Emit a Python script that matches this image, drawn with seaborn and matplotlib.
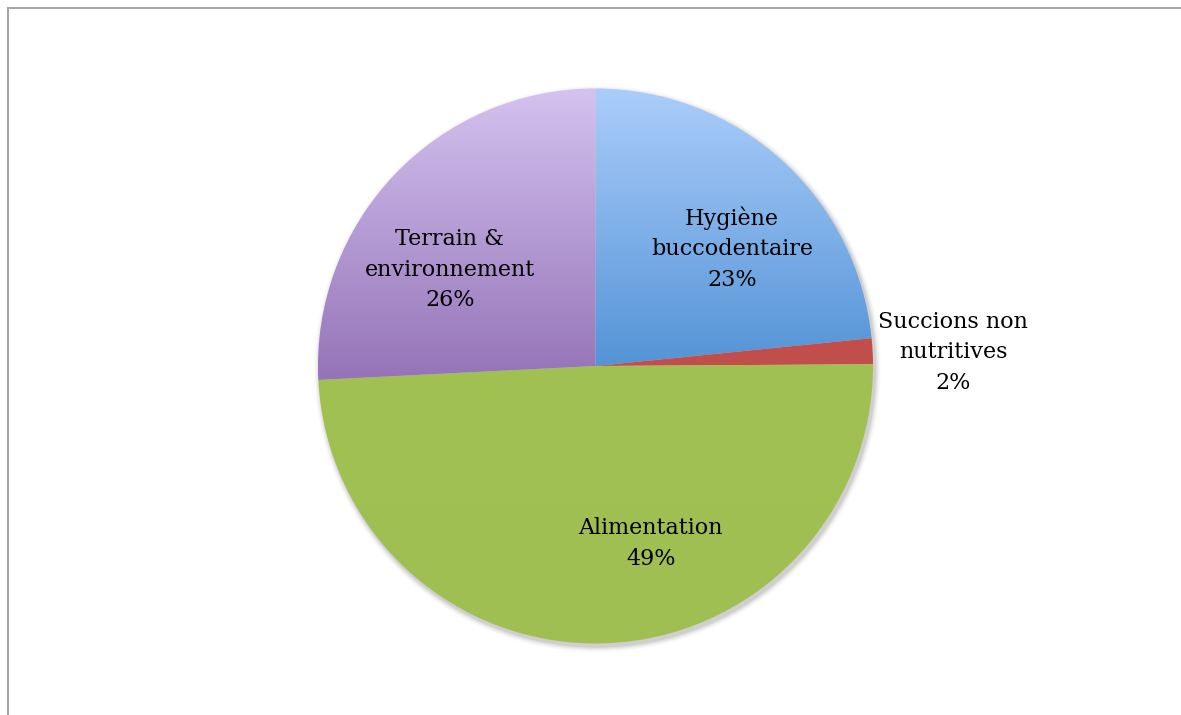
import numpy as np
import matplotlib
matplotlib.use('Agg')
import matplotlib.pyplot as plt
import matplotlib.colors as mcolors
from matplotlib.patches import Rectangle, Circle
import seaborn as sns

# data
categories = ['Hygiène\nbuccodentaire', 'Succions non\nnutritives', 'Alimentation', 'Terrain &\nenvironnement']
shares = [23.4, 1.5, 49.3, 25.8]

# gradient colours (top, bottom) for each slice
top_colors = ['#accefb', '#c24e4a', '#a2c153', '#d5c3f0']
bottom_colors = ['#5393d6', '#c0504d', '#a0bf52', '#9473b7']

# label placement: (angle deg, radius as fraction of pie radius)
label_pos = [(40.7, 0.65), (2.2, 1.29), (-72.7, 0.67), (146.5, 0.63)]

sns.set_theme(style='white')
plt.rcParams['font.family'] = ['DejaVu Serif', 'Liberation Serif']

W, H = 1181, 715
fig = plt.figure(figsize=(W / 100, H / 100), dpi=100)
ax = fig.add_axes([0, 0, 1, 1])

cx, cy, R = 595.5, 715 - 366, 277.5

# soft shadow
for i, a in enumerate(np.linspace(0.05, 0.012, 6)):
    ax.add_patch(Circle((cx + 2, cy - 3), R + 1 + i, color='black', alpha=a, lw=0, zorder=0))

wedges, _ = ax.pie(shares, startangle=90, counterclock=False, center=(cx, cy), radius=R,
                   colors=bottom_colors, wedgeprops=dict(lw=0))

for w, c0, c1 in zip(wedges, top_colors, bottom_colors):
    w.set_facecolor('none')
    cmap = mcolors.LinearSegmentedColormap.from_list('g', [c1, c0])
    verts = w.get_path().vertices
    ymin, ymax = verts[:, 1].min(), verts[:, 1].max()
    xmin, xmax = verts[:, 0].min(), verts[:, 0].max()
    grad = np.linspace(0, 1, 256).reshape(-1, 1)
    im = ax.imshow(grad, cmap=cmap, origin='lower', aspect='auto',
                   extent=(xmin - 2, xmax + 2, ymin - 2, ymax + 2), zorder=1,
                   interpolation='bilinear')
    im.set_clip_path(w)

for lab, v, (ang, rf) in zip(categories, shares, label_pos):
    t = np.deg2rad(ang)
    ax.text(cx + rf * R * np.cos(t), cy + rf * R * np.sin(t), f'{lab}\n{round(v)}%',
            ha='center', va='center', fontsize=16, color='black', linespacing=1.5, zorder=5)

ax.set_xlim(0, W)
ax.set_ylim(0, H)
ax.set_aspect('auto')
ax.axis('off')

fig.add_artist(Rectangle((8 / W, -0.1), 1.2, (H - 8) / H + 0.1, transform=fig.transFigure,
                         fill=False, edgecolor='#a6a6a6', lw=1.5))

fig.savefig('out.png', dpi=100)
